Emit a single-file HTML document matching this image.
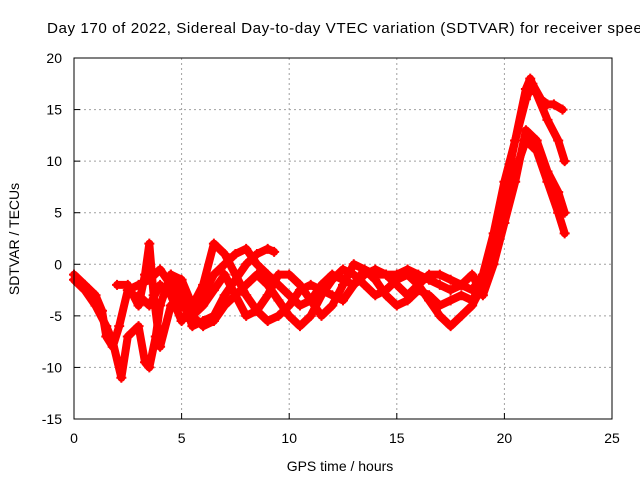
<!DOCTYPE html>
<html><head><meta charset="utf-8"><style>
body{margin:0;background:#fff;width:640px;height:480px;overflow:hidden;font-family:"Liberation Sans",sans-serif}
svg text{font-family:"Liberation Sans",sans-serif;font-size:14px;fill:#000}
</style></head><body>
<svg id="chart" width="640" height="480" viewBox="0 0 640 480">
<text x="47" y="33" style="font-size:15.2px;letter-spacing:0.55px">Day 170 of 2022, Sidereal Day-to-day VTEC variation (SDTVAR) for receiver speed</text>
<g id="grid"></g>
<g id="ticks"></g>
<g id="series"></g>
<rect x="74" y="58" width="538" height="361" fill="none" stroke="#000" stroke-width="1"/>
<text x="340" y="471" text-anchor="middle">GPS time / hours</text>
<text transform="translate(19,239) rotate(-90)" text-anchor="middle">SDTVAR / TECUs</text>
</svg>
<script>
const xTicks=[0,5,10,15,20,25];
const yTicks=[-15,-10,-5,0,5,10,15,20];
const s1=[[0,-1],[0.5,-2],[1,-3],[1.3,-4.5],[1.5,-7],[1.8,-8],[2.1,-6],[2.5,-2.5],[3,-2],[3.5,-1.5],[4,-0.5],[4.5,-2],[5,-4],[5.5,-5],[6,-6],[6.5,-5.5],[7,-4],[7.5,-3],[8,-2],[8.5,-1],[9,-2],[9.5,-3.5],[10,-5],[10.5,-6],[11,-5],[11.5,-3],[12,-1.5],[12.5,-0.5],[13,-1],[13.5,-2],[14,-3],[14.5,-2.5],[15,-1.5],[15.5,-1],[16,-2],[16.5,-3.5],[17,-5],[17.5,-6],[18,-5],[18.5,-4],[19,-2],[19.5,2],[20,7],[20.5,12],[21,16],[21.3,17.5],[21.7,16],[22,15.5],[22.3,15.5],[22.7,15]];
const s2=[[0,-1.5],[0.5,-2.5],[1,-4],[1.5,-6],[1.8,-7.5],[2.2,-11],[2.5,-7],[3,-6],[3.3,-9.5],[3.5,-10],[3.8,-7],[4,-4],[4.5,-1],[5,-1.5],[5.5,-4],[6,-2],[6.5,2],[7,1],[7.5,-1],[8,-3],[8.5,-4.5],[9,-5.5],[9.5,-5],[10,-4],[10.5,-2.5],[11,-2],[11.5,-2.5],[12,-3],[12.5,-3.5],[13,-2],[13.5,-0.5],[14,-1],[14.5,-1],[15,-2],[15.5,-3],[16,-2],[16.5,-1],[17,-1],[17.5,-1.5],[18,-2],[18.5,-2.5],[19,-1],[19.5,3],[20,8],[20.5,12],[21,17],[21.2,18],[21.5,16.5],[22,14],[22.5,12],[22.8,10]];
const s3=[[2,-2],[2.5,-2],[3,-4],[3.3,-1],[3.5,2],[3.7,-3],[4,-8],[4.5,-4],[5,-3],[5.5,-5],[6,-4],[6.5,-2.5],[7,-1],[7.5,-3],[8,-5],[8.5,-4.5],[9,-3],[9.5,-1],[10,-1],[10.5,-2],[11,-3.5],[11.5,-5],[12,-4],[12.5,-2],[13,0],[13.5,-0.5],[14,-1.5],[14.5,-3],[15,-4],[15.5,-3.5],[16,-2.5],[16.5,-3],[17,-4],[17.5,-3.5],[18,-3],[18.5,-3.5],[19,-2],[19.5,1],[20,5],[20.5,9],[21,12],[21.5,11],[22,8],[22.5,5],[22.8,3]];
const s4=[[3,-3],[3.5,-4],[4,-2],[4.5,-3],[5,-5.5],[5.5,-4],[6,-3],[6.5,-1],[7,0],[7.5,1],[8,1.5],[8.5,0],[9,-1],[9.5,-2],[10,-3],[10.5,-4],[11,-3.5],[11.5,-2],[12,-1],[12.5,-1.5],[13,-2],[13.5,-1],[14,-0.5],[14.5,-1],[15,-1],[15.5,-0.5],[16,-1],[16.5,-1.5],[17,-2],[17.5,-2.5],[18,-2],[18.5,-1],[19,-3],[19.5,0],[20,4],[20.5,8],[21,13],[21.5,12],[22,9],[22.5,7],[22.8,5]];
const s5=[[4.5,-1],[5,-3],[5.5,-6],[6,-5.5],[6.5,-5],[7,-3],[7.5,-1.5],[8,0],[8.5,1],[9,1.5],[9.3,1.2]];
const allSeries=[s1,s2,s3,s4,s5];
const NS="http://www.w3.org/2000/svg";
const X=v=>74+v*538/25;
const Y=v=>419-(v+15)*361/35;
function mk(t,a){const e=document.createElementNS(NS,t);for(const k in a)e.setAttribute(k,a[k]);return e;}
const grid=document.getElementById('grid'),ticks=document.getElementById('ticks'),ser=document.getElementById('series');
xTicks.forEach(t=>{
 if(t>0&&t<25){const l=mk('line',{x1:X(t),x2:X(t),y1:58,y2:419,stroke:'#a0a0a0','stroke-dasharray':'2,3'});
 
 grid.appendChild(l);}
 const tk=mk('line',{x1:X(t),x2:X(t),y1:419,y2:413,stroke:'#000'});
 
 ticks.appendChild(tk);
 const tx=mk('text',{x:X(t),y:443,'text-anchor':'middle'});tx.textContent=t;
 
 ticks.appendChild(tx);
});
yTicks.forEach(t=>{
 if(t>-15&&t<20){const l=mk('line',{x1:74,x2:612,y1:Y(t),y2:Y(t),stroke:'#a0a0a0','stroke-dasharray':'2,3'});
 
 grid.appendChild(l);}
 const tk=mk('line',{x1:74,x2:80,y1:Y(t),y2:Y(t),stroke:'#000'});
 
 ticks.appendChild(tk);
 const tx=mk('text',{x:62,y:Y(t)+5,'text-anchor':'end'});tx.textContent=t;
 
 ticks.appendChild(tx);
});
allSeries.forEach((s,i)=>{
 const p=mk('polyline',{points:s.map(d=>X(d[0])+','+Y(d[1])).join(' '),fill:'none',stroke:'#ff0000','stroke-width':8,'stroke-linejoin':'round','stroke-linecap':'round'});
 
 ser.appendChild(p);
 s.forEach(d=>{
  const m=mk('path',{d:`M${X(d[0])-5},${Y(d[1])}h10M${X(d[0])},${Y(d[1])-5}v10`,stroke:'#ff0000','stroke-width':2});
  
  ser.appendChild(m);
 });
});
</script>
</body></html>
